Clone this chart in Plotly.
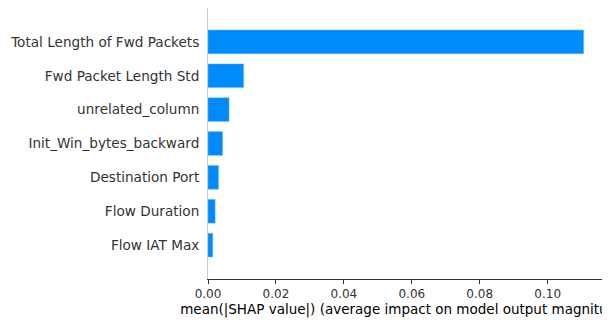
import plotly.graph_objects as go

# features from bottom to top, as plotted
features = [
    "Flow IAT Max",
    "Flow Duration",
    "Destination Port",
    "Init_Win_bytes_backward",
    "unrelated_column",
    "Fwd Packet Length Std",
    "Total Length of Fwd Packets",
]
mean_abs_shap = [0.0014, 0.0021, 0.0031, 0.0043, 0.0062, 0.0105, 0.1106]

x_ticks = [0.0, 0.02, 0.04, 0.06, 0.08, 0.10]
x_tick_labels = ["0.00", "0.02", "0.04", "0.06", "0.08", "0.10"]

fig = go.Figure()
fig.add_trace(go.Bar(
    x=mean_abs_shap,
    y=features,
    orientation='h',
    width=0.7,
    marker=dict(color='#008bfb', line=dict(color='#66b9fd', width=0.5)),
    hovertemplate='%{y}: %{x:.4f}<extra></extra>'
))

# page body adds an 8px offset, margins account for it
fig.update_layout(
    width=610,
    height=324,
    margin=dict(l=200, r=16, t=0, b=53),
    plot_bgcolor='white',
    paper_bgcolor='white',
    showlegend=False,
    font=dict(family='DejaVu Sans', color='#333333'),
    xaxis=dict(
        range=[0, 0.116],
        tickvals=x_ticks,
        ticktext=x_tick_labels,
        ticks='outside',
        ticklen=4,
        tickcolor='#333333',
        tickfont=dict(size=12, color='#333333'),
        showline=True,
        linecolor='#333333',
        linewidth=1,
        showgrid=False,
        zeroline=False,
        automargin=False,
        title=dict(
            text='mean(|SHAP value|) (average impact on model output magnitude)',
            font=dict(size=13.5, color='#000000'),
            standoff=4
        ),
    ),
    yaxis=dict(
        type='category',
        categoryorder='array',
        categoryarray=features,
        range=[-1, 7],
        ticks='outside',
        ticklen=5,
        tickcolor='rgba(0,0,0,0)',
        tickfont=dict(size=13.6, color='#333333'),
        showline=True,
        linecolor='#cccccc',
        linewidth=1,
        showgrid=False,
        zeroline=False,
        automargin=False,
    ),
)

fig.write_html("out.html")
